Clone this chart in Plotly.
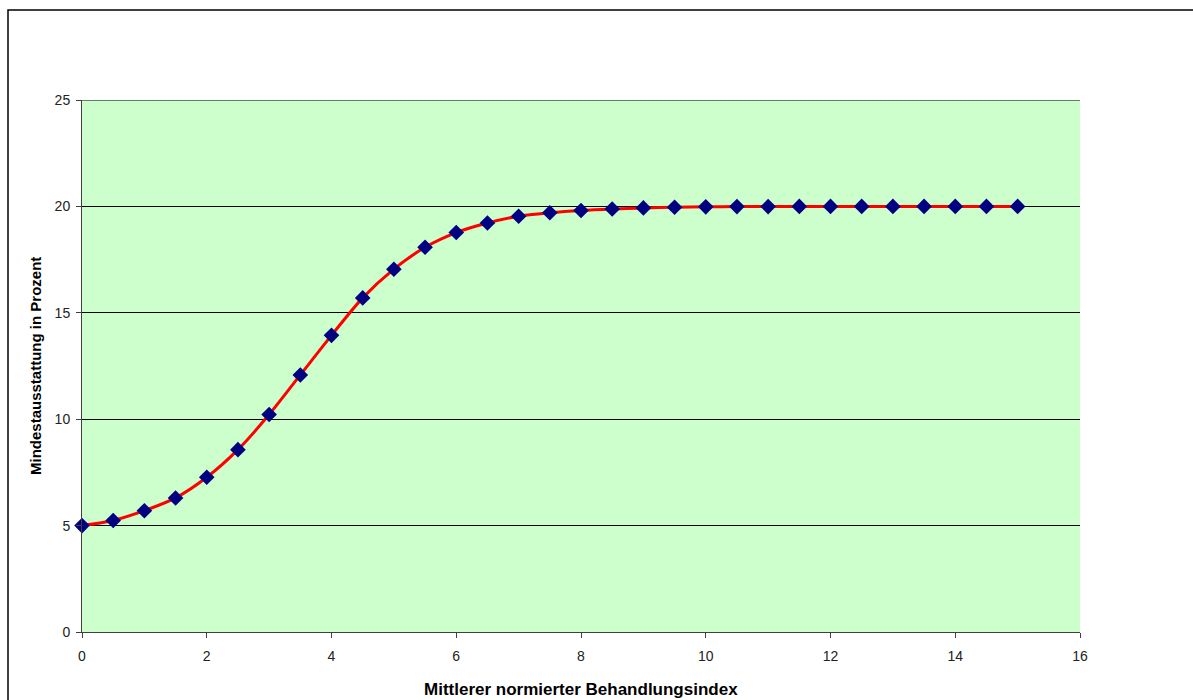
import plotly.graph_objects as go

# Data
index_x = [0, 0.5, 1, 1.5, 2, 2.5, 3, 3.5, 4, 4.5, 5, 5.5, 6, 6.5, 7, 7.5,
           8, 8.5, 9, 9.5, 10, 10.5, 11, 11.5, 12, 12.5, 13, 13.5, 14, 14.5, 15]
ausstattung = [5.00, 5.24, 5.70, 6.30, 7.27, 8.57, 10.22, 12.08, 13.94, 15.70,
               17.05, 18.08, 18.77, 19.22, 19.54, 19.70, 19.81, 19.88, 19.93,
               19.96, 19.98, 19.99, 19.99, 20.0, 20.0, 20.0, 20.0, 20.0, 20.0,
               20.0, 20.0]
x_ticks = [0, 2, 4, 6, 8, 10, 12, 14, 16]
y_ticks = [0, 5, 10, 15, 20, 25]
x_title = "Mittlerer normierter Behandlungsindex"
y_title = "Mindestausstattung in Prozent"

fig = go.Figure()
fig.add_trace(go.Scatter(
    x=index_x, y=ausstattung, mode="lines+markers",
    line=dict(color="#FF0000", width=3, shape="spline", smoothing=0.8),
    marker=dict(symbol="diamond", size=12, color="#000080",
                line=dict(width=0)),
    showlegend=False, hoverinfo="x+y", cliponaxis=False))

font_family = "Liberation Sans, Arial, sans-serif"
fig.update_layout(
    width=1193, height=700,
    margin=dict(l=82, r=113, t=100, b=68, autoexpand=False),
    paper_bgcolor="white", plot_bgcolor="#CCFFCC",
    font=dict(family=font_family, size=14, color="#000000"),
    xaxis=dict(range=[0, 16], tickvals=x_ticks, ticktext=[str(v) for v in x_ticks],
               showgrid=False, zeroline=False, showline=True, linecolor="#404040",
               linewidth=1, ticks="outside", ticklen=5, tickcolor="#404040",
               ticklabelstandoff=6, automargin=False,
               tickfont=dict(size=14, color="#222222")),
    yaxis=dict(range=[0, 25], tickvals=y_ticks, ticktext=[str(v) for v in y_ticks],
               showgrid=True, gridcolor="#000000", gridwidth=1, zeroline=False,
               showline=True, linecolor="#404040", linewidth=1,
               ticks="outside", ticklen=5, tickcolor="#404040",
               ticklabelstandoff=3, automargin=False,
               tickfont=dict(size=14, color="#222222")),
    annotations=[
        dict(text="<b>" + x_title + "</b>", xref="paper", yref="paper",
             x=0.5, y=(632 - 689) / 532, xanchor="center", yanchor="middle",
             showarrow=False, font=dict(size=17, color="#000000")),
        dict(text="<b>" + y_title + "</b>", xref="paper", yref="paper",
             x=(35 - 82) / 998, y=0.5, xanchor="center", yanchor="middle",
             textangle=-90, showarrow=False, font=dict(size=15, color="#000000")),
    ],
    shapes=[dict(type="rect", xref="paper", yref="paper",
                 x0=(8 - 82) / 998, x1=(1230 - 82) / 998,
                 y0=(632 - 720) / 532, y1=(632 - 10) / 532,
                 line=dict(color="#000000", width=1.5), fillcolor="rgba(0,0,0,0)",
                 layer="below"),
            dict(type="line", xref="paper", yref="y", x0=0, x1=1, y0=25, y1=25,
                 line=dict(color="#000000", width=1), layer="below")],
)

fig.write_html("out.html")
